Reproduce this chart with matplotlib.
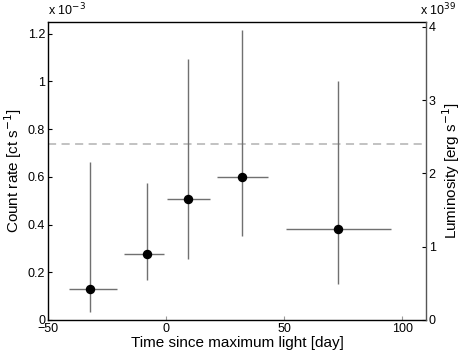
import matplotlib
matplotlib.use("Agg")
import matplotlib.pyplot as plt
from matplotlib.ticker import FuncFormatter

plt.rcParams['font.family'] = ['Liberation Sans', 'DejaVu Sans']

# Data (count rate in units of 1e-3 ct/s)
t_mid = [-32.1, -8.3, 9.4, 32.3, 72.7]
t_lo = [-41.0, -17.7, 0.4, 21.7, 50.7]
t_hi = [-20.9, -1.0, 18.7, 43.3, 95.1]
rate = [0.130, 0.275, 0.509, 0.600, 0.381]
rate_lo = [0.032, 0.166, 0.254, 0.352, 0.151]
rate_hi = [0.663, 0.572, 1.095, 1.214, 1.000]
limit_rate = 0.737

x_ticks = [-50, 0, 50, 100]
y_ticks = [0, 0.2, 0.4, 0.6, 0.8, 1.0, 1.2]
lum_ticks = [0, 1, 2, 3, 4]

fig = plt.figure(figsize=(4.63, 3.55), dpi=100)
ax = fig.add_axes([0.1037, 0.0986, 0.8163, 0.8403])

xerr = [[m - l for m, l in zip(t_mid, t_lo)], [h - m for m, h in zip(t_mid, t_hi)]]
yerr = [[r - l for r, l in zip(rate, rate_lo)], [h - r for r, h in zip(rate, rate_hi)]]

ax.axhline(limit_rate, color='#bdbdbd', lw=1.3, ls=(0, (4.5, 3)), zorder=1)
ax.errorbar(t_mid, rate, xerr=xerr, yerr=yerr, fmt='none', ecolor='#707070',
            elinewidth=1.0, capsize=0, zorder=2)
ax.plot(t_mid, rate, 'o', color='black', ms=5.8, zorder=3)

ax.set_xlim(-50, 110)
ax.set_ylim(0, 1.25)
ax.set_xticks(x_ticks)
ax.set_yticks(y_ticks)
ax.yaxis.set_major_formatter(FuncFormatter(lambda v, p: f"{v:g}"))
ax.tick_params(direction='in', length=3, labelsize=9, width=0.8)
ax.tick_params(axis='x', colors='#999999', labelcolor='black', pad=2)
ax.tick_params(axis='y', pad=2)
for s in ax.spines.values():
    s.set_linewidth(1.0)
ax.spines['right'].set_visible(False)

ax.set_xlabel('Time since maximum light [day]', fontsize=11, labelpad=1)
ax.set_ylabel('Count rate [ct s$^{-1}$]', fontsize=11, labelpad=3)
ax.text(0.0, 1.012, r'x 10$^{-3}$', transform=ax.transAxes, fontsize=9,
        ha='left', va='bottom')

ax2 = ax.twinx()
ax2.set_ylim(0, 4.07)
ax2.set_yticks(lum_ticks)
ax2.tick_params(direction='in', length=3, labelsize=9, width=0.8, pad=2)
ax2.spines['right'].set_color('#555555')
ax2.spines['right'].set_linewidth(1.0)
for k in ['left', 'top', 'bottom']:
    ax2.spines[k].set_visible(False)
ax2.set_ylabel('Luminosity [erg s$^{-1}$]', fontsize=11, labelpad=3)
ax2.text(0.985, 1.012, r'x 10$^{39}$', transform=ax2.transAxes, fontsize=9,
         ha='left', va='bottom')

fig.savefig('out.png', dpi=100)
